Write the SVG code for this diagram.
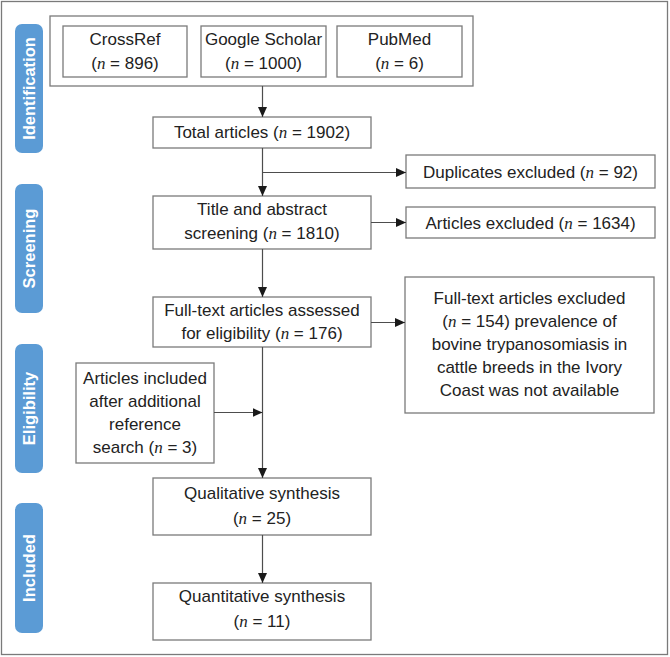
<svg xmlns="http://www.w3.org/2000/svg" width="670" height="657" viewBox="0 0 670 657">
<style>
.box{fill:#fff;stroke:#7a7a7a;stroke-width:1.3}
.t{font-family:"Liberation Sans",Arial,sans-serif;font-size:17px;fill:#222;text-anchor:middle}
.n{font-family:"Liberation Serif","Times New Roman",serif;font-style:italic}
.tab{fill:#5b9bd5}
.tl{font-family:"Liberation Sans",Arial,sans-serif;font-size:16.5px;font-weight:bold;fill:#fff;text-anchor:middle}
.ln{fill:none;stroke:#4d4d4d;stroke-width:1.2}
</style>
<defs>
<marker id="ah" markerUnits="userSpaceOnUse" markerWidth="10" markerHeight="10" refX="10" refY="5" orient="auto">
<path d="M0,0.5 L10,5 L0,9.5 z" fill="#1a1a1a"/>
</marker>
</defs>
<rect x="1.5" y="1.5" width="666" height="653" fill="#fff" stroke="#7a7a7a" stroke-width="1.3"/>

<g id="tab-identification"><rect class="tab" x="15" y="24" width="28" height="129" rx="7"/><text class="tl" transform="translate(35,88.5) rotate(-90)">Identification</text></g>
<g id="tab-screening"><rect class="tab" x="15" y="184" width="28" height="129" rx="7"/><text class="tl" transform="translate(35,248.5) rotate(-90)">Screening</text></g>
<g id="tab-eligibility"><rect class="tab" x="15" y="344" width="28" height="129" rx="7"/><text class="tl" transform="translate(35,408.5) rotate(-90)">Eligibility</text></g>
<g id="tab-included"><rect class="tab" x="15" y="503" width="28" height="130" rx="7"/><text class="tl" transform="translate(35,568) rotate(-90)">Included</text></g>

<g id="sources"><rect class="box" x="50" y="16" width="423" height="70"/></g>
<g id="crossref"><rect class="box" x="63" y="26" width="124" height="51"/><text class="t" x="125" y="45">CrossRef</text><text class="t" x="125" y="69">(<tspan class="n">n</tspan> = 896)</text></g>
<g id="scholar"><rect class="box" x="201" y="26" width="125" height="51"/><text class="t" x="263.5" y="45">Google Scholar</text><text class="t" x="263.5" y="69">(<tspan class="n">n</tspan> = 1000)</text></g>
<g id="pubmed"><rect class="box" x="337" y="26" width="125" height="51"/><text class="t" x="399.5" y="45">PubMed</text><text class="t" x="399.5" y="69">(<tspan class="n">n</tspan> = 6)</text></g>

<g id="total"><rect class="box" x="153" y="117" width="218" height="31"/><text class="t" x="262" y="138">Total articles (<tspan class="n">n</tspan> = 1902)</text></g>
<g id="duplicates"><rect class="box" x="406" y="155" width="249" height="33"/><text class="t" x="530.5" y="178">Duplicates excluded (<tspan class="n">n</tspan> = 92)</text></g>
<g id="screening"><rect class="box" x="153" y="196" width="218" height="53"/><text class="t" x="262" y="215">Title and abstract</text><text class="t" x="262" y="239">screening (<tspan class="n">n</tspan> = 1810)</text></g>
<g id="excluded1"><rect class="box" x="406" y="207" width="249" height="31"/><text class="t" x="530.5" y="229">Articles excluded (<tspan class="n">n</tspan> = 1634)</text></g>
<g id="fulltext"><rect class="box" x="153" y="297" width="218" height="50"/><text class="t" x="262" y="316">Full-text articles assessed</text><text class="t" x="262" y="339">for eligibility (<tspan class="n">n</tspan> = 176)</text></g>
<g id="excluded2"><rect class="box" x="405" y="277" width="249" height="136"/>
<text class="t" x="529.5" y="304">Full-text articles excluded</text>
<text class="t" x="529.5" y="327">(<tspan class="n">n</tspan> = 154) prevalence of</text>
<text class="t" x="529.5" y="350">bovine trypanosomiasis in</text>
<text class="t" x="529.5" y="373">cattle breeds in the Ivory</text>
<text class="t" x="529.5" y="396">Coast was not available</text></g>
<g id="additional"><rect class="box" x="76" y="363" width="138" height="100"/>
<text class="t" x="145" y="384">Articles included</text>
<text class="t" x="145" y="407">after additional</text>
<text class="t" x="145" y="430">reference</text>
<text class="t" x="145" y="453">search (<tspan class="n">n</tspan> = 3)</text></g>
<g id="qualitative"><rect class="box" x="153" y="478" width="218" height="57"/><text class="t" x="262" y="499">Qualitative synthesis</text><text class="t" x="262" y="524">(<tspan class="n">n</tspan> = 25)</text></g>
<g id="quantitative"><rect class="box" x="153" y="583" width="218" height="57"/><text class="t" x="262" y="602">Quantitative synthesis</text><text class="t" x="262" y="627">(<tspan class="n">n</tspan> = 11)</text></g>

<g id="connectors">
<line class="ln" x1="262.5" y1="86" x2="262.5" y2="117" marker-end="url(#ah)"/>
<line class="ln" x1="262.5" y1="148" x2="262.5" y2="196" marker-end="url(#ah)"/>
<line class="ln" x1="262.5" y1="172.5" x2="406" y2="172.5" marker-end="url(#ah)"/>
<line class="ln" x1="371" y1="222.5" x2="406" y2="222.5" marker-end="url(#ah)"/>
<line class="ln" x1="262.5" y1="249" x2="262.5" y2="297" marker-end="url(#ah)"/>
<line class="ln" x1="371" y1="322.5" x2="405" y2="322.5" marker-end="url(#ah)"/>
<line class="ln" x1="262.5" y1="347" x2="262.5" y2="478" marker-end="url(#ah)"/>
<line class="ln" x1="214" y1="412.5" x2="262.5" y2="412.5" marker-end="url(#ah)"/>
<line class="ln" x1="262.5" y1="535" x2="262.5" y2="583" marker-end="url(#ah)"/>
</g>
</svg>
